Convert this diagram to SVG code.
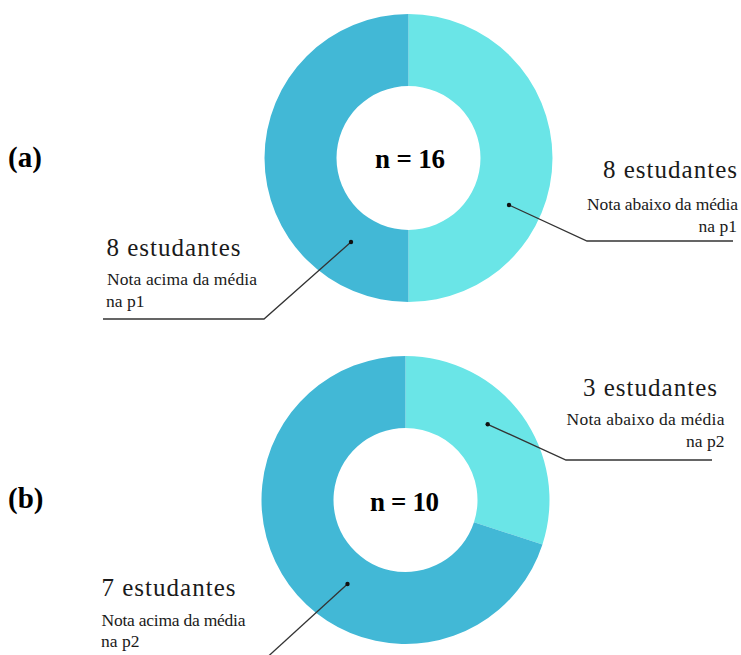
<svg xmlns="http://www.w3.org/2000/svg" width="741" height="655" viewBox="0 0 741 655">
<style>
.dark{fill:#42b8d6}
.light{fill:#6ae5e7}
text{font-family:'Liberation Serif','DejaVu Serif',serif}
.big{font-size:25px;fill:#1a1a1a}
.small{font-size:17.5px;fill:#1a1a1a}
.tag{font-size:29px;font-weight:bold;fill:#000}
.n{font-size:27px;font-weight:bold;fill:#000;text-anchor:middle}
.lead{fill:none;stroke:#333;stroke-width:1.3}
.dot{fill:#111}
</style>
<rect width="741" height="655" fill="#ffffff"/>
<g id="chart-a">
<path class="light" d="M408.5,14 A144,144 0 0 1 408.5,302 L408.5,230 A72,72 0 0 0 408.5,86 Z"/>
<path class="dark" d="M408.5,302 A144,144 0 0 1 408.5,14 L408.5,86 A72,72 0 0 0 408.5,230 Z"/>
<text class="n" x="410" y="168" textLength="70">n = 16</text>
</g>
<g id="chart-b">
<path class="light" d="M405.5,356 A144,144 0 0 1 542.45,544.5 L473.98,522.25 A72,72 0 0 0 405.5,428 Z"/>
<path class="dark" d="M542.45,544.5 A144,144 0 1 1 405.5,356 L405.5,428 A72,72 0 1 0 473.98,522.25 Z"/>
<text class="n" x="404.5" y="510.5" textLength="69">n = 10</text>
</g>
<g id="label-a"><text class="tag" x="8" y="167">(a)</text></g>
<g id="label-b"><text class="tag" x="8" y="508">(b)</text></g>
<g id="note-a-right">
<text class="big" x="603" y="178" textLength="134">8 estudantes</text>
<text class="small" x="587" y="210" textLength="151">Nota abaixo da média</text>
<text class="small" x="737" y="232" text-anchor="end">na p1</text>
</g>
<g id="note-a-left">
<text class="big" x="106.5" y="256" textLength="134">8 estudantes</text>
<text class="small" x="107" y="285" textLength="150">Nota acima da média</text>
<text class="small" x="106" y="307">na p1</text>
</g>
<g id="note-b-right">
<text class="big" x="583" y="396" textLength="134">3 estudantes</text>
<text class="small" x="566.5" y="425" textLength="158">Nota abaixo da média</text>
<text class="small" x="724.5" y="447" text-anchor="end">na p2</text>
</g>
<g id="note-b-left">
<text class="big" x="101.5" y="596" textLength="134">7 estudantes</text>
<text class="small" x="101.5" y="626" textLength="144">Nota acima da média</text>
<text class="small" x="101" y="647">na p2</text>
</g>
<g id="connectors">
<polyline class="lead" points="509,205 587,241 733,241"/>
<circle class="dot" cx="509" cy="205" r="2.2"/>
<polyline class="lead" points="351,242 264,319 103,319"/>
<circle class="dot" cx="351" cy="242" r="2.2"/>
<polyline class="lead" points="487.7,424.3 566,460 712,460"/>
<circle class="dot" cx="487.7" cy="424.3" r="2.2"/>
<polyline class="lead" points="347.5,584 262,662"/>
<circle class="dot" cx="347.5" cy="584" r="2.2"/>
</g>
</svg>
